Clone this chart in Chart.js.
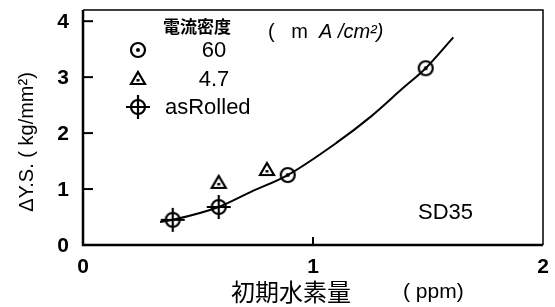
<!DOCTYPE html>
<html>
<head>
<meta charset="utf-8">
<script src="https://cdn.jsdelivr.net/npm/chart.js@4"></script>
<style>
  html, body { margin: 0; padding: 0; background: #fff; }
  #wrap { width: 555px; height: 307px; }
</style>
</head>
<body>
<div id="wrap"><canvas id="chart" width="555" height="307"></canvas></div>
<script>
// data
const xTicks = [0, 1, 2];
const yTicks = [0, 1, 2, 3, 4];

const ma60X = [0.89, 1.49];
const ma60Y = [1.25, 3.16];

const ma47X = [0.59, 0.80];
const ma47Y = [1.11, 1.34];

const rolledX = [0.39, 0.59];
const rolledY = [0.45, 0.68];

// fitted curve
const curveX = [0.335, 0.39, 0.59, 0.73, 0.89, 1.10, 1.25, 1.39, 1.49, 1.61];
const curveY = [0.41, 0.45, 0.68, 0.95, 1.25, 1.82, 2.29, 2.80, 3.16, 3.71];

const legendNames = ['60', '4.7', 'asRolled'];

const pts = (xs, ys) => xs.map((x, i) => ({ x: x, y: ys[i] }));

// marker images
function makeMarker(kind) {
    const c = document.createElement('canvas');
    c.width = 28; c.height = 28;
    const g = c.getContext('2d');
    g.strokeStyle = '#000';
    g.fillStyle = '#000';
    g.lineWidth = 2.2;
    const m = 14;
    if (kind === 'circle') {
        g.fillStyle = '#fff';
        g.beginPath(); g.arc(m, m, 7, 0, Math.PI * 2); g.fill(); g.stroke();
        g.fillStyle = '#000';
        g.beginPath(); g.arc(m, m, 2, 0, Math.PI * 2); g.fill();
    } else if (kind === 'tri') {
        g.fillStyle = '#fff';
        g.beginPath();
        g.moveTo(m, m - 7); g.lineTo(m + 7, m + 5); g.lineTo(m - 7, m + 5); g.closePath();
        g.fill(); g.stroke();
        g.fillStyle = '#000';
        g.fillRect(m - 1.5, m, 3, 2.5);
    } else {
        g.fillStyle = '#fff';
        g.beginPath(); g.arc(m, m, 7, 0, Math.PI * 2); g.fill(); g.stroke();
        g.beginPath();
        g.moveTo(m - 12, m); g.lineTo(m + 12, m);
        g.moveTo(m, m - 12); g.lineTo(m, m + 12);
        g.stroke();
    }
    return c;
}
const mkCircle = makeMarker('circle');
const mkTri = makeMarker('tri');
const mkRolled = makeMarker('rolled');

const latin = '"Liberation Sans", Arial, sans-serif';
const cjk = '"Noto Sans CJK JP", sans-serif';

const decor = {
    id: 'decor',
    afterDatasetsDraw(chart) {
        const ctx = chart.ctx;
        const a = chart.chartArea;
        const xs = chart.scales.x, ys = chart.scales.y;
        ctx.save();
        ctx.strokeStyle = '#000';
        ctx.fillStyle = '#000';

        // frame
        ctx.lineWidth = 1.5;
        ctx.beginPath();
        ctx.moveTo(a.left, a.top); ctx.lineTo(a.right, a.top); ctx.lineTo(a.right, a.bottom);
        ctx.stroke();
        ctx.lineWidth = 2.5;
        ctx.beginPath();
        ctx.moveTo(a.left, a.top); ctx.lineTo(a.left, a.bottom); ctx.lineTo(a.right, a.bottom);
        ctx.stroke();

        // inner ticks
        ctx.lineWidth = 2;
        yTicks.forEach(v => {
            if (v === 0) return;
            const y = ys.getPixelForValue(v);
            ctx.beginPath(); ctx.moveTo(a.left, y); ctx.lineTo(a.left + 10, y); ctx.stroke();
        });
        xTicks.forEach(v => {
            if (v === 0 || v === 2) return;
            const x = xs.getPixelForValue(v);
            ctx.beginPath(); ctx.moveTo(x, a.bottom); ctx.lineTo(x, a.bottom - 8); ctx.stroke();
        });

        // tick labels
        ctx.font = 'bold 21px ' + latin;
        ctx.textAlign = 'right'; ctx.textBaseline = 'middle';
        yTicks.forEach(v => ctx.fillText(String(v), a.left - 14, ys.getPixelForValue(v) + 1));
        ctx.textAlign = 'center'; ctx.textBaseline = 'top';
        xTicks.forEach(v => ctx.fillText(String(v), xs.getPixelForValue(v), a.bottom + 12));

        // axis titles
        ctx.font = '24px ' + cjk;
        ctx.textAlign = 'left'; ctx.textBaseline = 'middle';
        ctx.fillText('初期水素量', 231, 292);
        ctx.font = '21px ' + latin;
        ctx.fillText('( ppm)', 403, 292);

        ctx.save();
        ctx.translate(27, 142);
        ctx.rotate(-Math.PI / 2);
        ctx.textAlign = 'center';
        ctx.font = '20px ' + latin;
        ctx.fillText('ΔY.S. ( kg/mm²)', 0, 0);
        ctx.restore();

        // legend
        ctx.font = 'bold 17px ' + cjk;
        ctx.textAlign = 'left';
        ctx.fillText('電流密度', 163, 27);
        ctx.font = '20px ' + latin;
        ctx.fillText('(   m', 268, 32);
        ctx.font = 'italic 20px ' + latin;
        ctx.fillText('A /cm²)', 319, 32);
        const rows = [50, 79, 107];
        const marks = [mkCircle, mkTri, mkRolled];
        ctx.font = '22px ' + latin;
        rows.forEach((y, i) => {
            ctx.drawImage(marks[i], 138 - 14, y - 14);
            if (i < 2) {
                ctx.textAlign = 'center';
                ctx.fillText(legendNames[i], 214, y + 1);
            } else {
                ctx.textAlign = 'left';
                ctx.fillText(legendNames[i], 165, y + 1);
            }
        });

        ctx.font = '22px ' + latin;
        ctx.textAlign = 'left';
        ctx.fillText('SD35', 418, 213);
        ctx.restore();
    }
};

new Chart(document.getElementById('chart'), {
    type: 'scatter',
    data: {
        datasets: [
            {
                type: 'line',
                data: pts(curveX, curveY),
                borderColor: '#000',
                borderWidth: 2,
                pointRadius: 0,
                cubicInterpolationMode: 'monotone',
                fill: false
            },
            { data: pts(rolledX, rolledY), pointStyle: mkRolled },
            { data: pts(ma47X, ma47Y), pointStyle: mkTri },
            { data: pts(ma60X, ma60Y), pointStyle: mkCircle }
        ]
    },
    options: {
        responsive: false,
        animation: false,
        clip: false,
        layout: { padding: { left: 83, right: 12, top: 10, bottom: 62 } },
        plugins: { legend: { display: false }, tooltip: { enabled: false } },
        scales: {
            x: { type: 'linear', min: 0, max: 2, display: false },
            y: { type: 'linear', min: 0, max: 4.2, display: false }
        }
    },
    plugins: [decor]
});
</script>
</body>
</html>
